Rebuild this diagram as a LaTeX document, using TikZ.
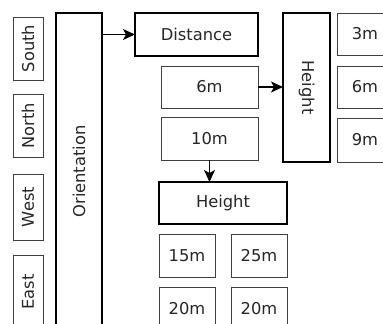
\documentclass[tikz,border=0pt]{standalone}
\usepackage{fontspec}
\setmainfont{DejaVu Sans}
\usetikzlibrary{arrows.meta}
\begin{document}
\begin{tikzpicture}[x=1pt,y=-1pt,
  box/.style={draw=black!75, line width=1pt, inner sep=0pt, outer sep=0pt,
              font=\fontsize{16.3}{18}\selectfont, text=black!85},
  thickbox/.style={box, draw=black, line width=2.5pt},
  arr/.style={-{Stealth[length=12pt,width=11pt,inset=3pt]}, line width=1.2pt}]
\useasboundingbox (0,0) rectangle (383,324);
\clip (0,0) rectangle (383,324);
% left column
\node[box, rotate=90, minimum width=63, minimum height=30] (south) at (28,48.5) {South};
\node[box, rotate=90, minimum width=63, minimum height=30] (north) at (28,125.5) {North};
\node[box, rotate=90, minimum width=66, minimum height=30] (west) at (28,207) {West};
\node[box, rotate=90, minimum width=74, minimum height=30] (east) at (28,292) {East};
\node[thickbox, rotate=90, minimum width=317, minimum height=46] (ori) at (79,171.5) {Orientation};
% distance branch
\node[thickbox, minimum width=123, minimum height=43] (dist) at (196.5,34.5) {Distance};
\node[box, minimum width=97, minimum height=42] (m6) at (209.5,87) {6m};
\node[box, minimum width=97, minimum height=43] (m10) at (209.5,138.5) {10m};
% vertical height
\node[thickbox, rotate=-90, minimum width=149, minimum height=47] (hv) at (306.5,87.5) {Height};
\node[box, minimum width=56, minimum height=42] (r3) at (365,34) {3m};
\node[box, minimum width=56, minimum height=42] (r6) at (365,87) {6m};
\node[box, minimum width=56, minimum height=44] (r9) at (365,140) {9m};
% horizontal height
\node[thickbox, minimum width=128, minimum height=42] (hh) at (223,203) {Height};
\node[box, minimum width=56, minimum height=43] (a15) at (187,255.5) {15m};
\node[box, minimum width=56, minimum height=43] (a25) at (259,255.5) {25m};
\node[box, minimum width=56, minimum height=44] (b20) at (187,309) {20m};
\node[box, minimum width=56, minimum height=44] (c20) at (259,309) {20m};
% connectors
\draw[arr] (ori.south |- dist.west) -- (dist.west);
\draw[arr] (m6.east) -- (m6.east -| hv.south);
\draw[arr] (m10.south) -- (m10.south |- hh.north);
\end{tikzpicture}
\end{document}
